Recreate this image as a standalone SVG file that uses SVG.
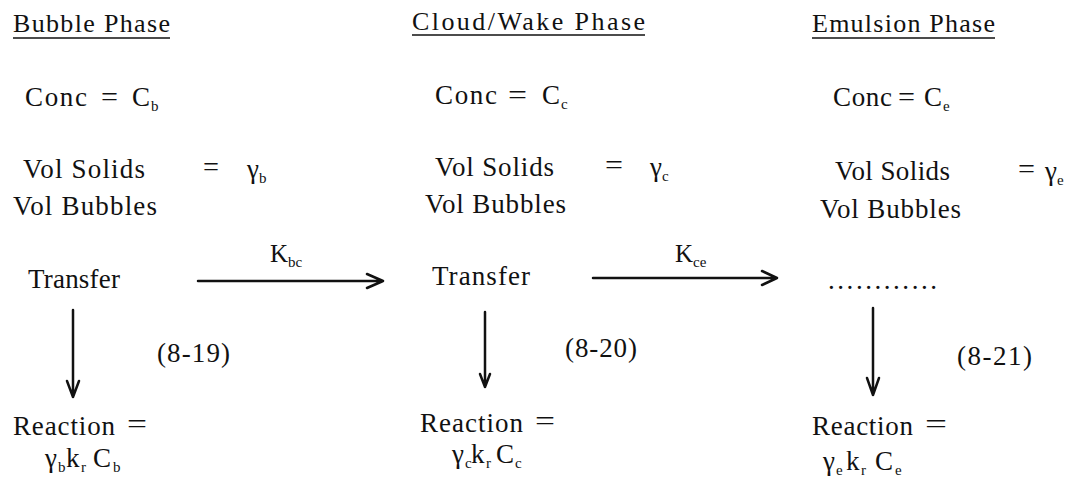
<svg xmlns="http://www.w3.org/2000/svg" width="1072" height="481" viewBox="0 0 1072 481">
<style>
text{font-family:"Liberation Serif","Times New Roman",serif;fill:#111;}
.h{font-size:26px}
.t{font-size:27px}
.s{font-size:15px}
.k{font-size:25px}
.ul{stroke:#111;stroke-width:1.5}
.ar{stroke:#111;fill:none;stroke-width:2.5;stroke-linecap:round;stroke-linejoin:round}
</style>
<rect width="1072" height="481" fill="#fff"/>

<g id="bubble-header"><text class="h" x="13" y="32" textLength="157" lengthAdjust="spacing">Bubble Phase</text><line class="ul" x1="13" y1="38" x2="170" y2="38"/></g>
<g id="cloud-header"><text class="h" x="412" y="30" textLength="233" lengthAdjust="spacing">Cloud/Wake Phase</text><line class="ul" x1="412" y1="35" x2="645" y2="35"/></g>
<g id="emulsion-header"><text class="h" x="812" y="32" textLength="183" lengthAdjust="spacing">Emulsion Phase</text><line class="ul" x1="812" y1="38" x2="995" y2="38"/></g>

<g id="bubble-conc"><text class="t" x="25" y="106" textLength="62" lengthAdjust="spacing">Conc</text><text class="t" x="101" y="106" textLength="17" lengthAdjust="spacingAndGlyphs">=</text><text class="t" x="132" y="106">C</text><text class="s" x="151" y="111">b</text></g>
<g id="cloud-conc"><text class="t" x="435" y="104" textLength="62" lengthAdjust="spacing">Conc</text><text class="t" x="508" y="104" textLength="19" lengthAdjust="spacingAndGlyphs">=</text><text class="t" x="542" y="104">C</text><text class="s" x="561" y="109">c</text></g>
<g id="emulsion-conc"><text class="t" x="833" y="106" textLength="59" lengthAdjust="spacing">Conc</text><text class="t" x="898" y="106" textLength="17" lengthAdjust="spacingAndGlyphs">=</text><text class="t" x="924" y="106">C</text><text class="s" x="943" y="111">e</text></g>

<g id="bubble-ratio"><text class="t" x="23" y="178" textLength="122" lengthAdjust="spacing">Vol Solids</text><text class="t" x="203" y="176" textLength="16" lengthAdjust="spacingAndGlyphs">=</text><text class="t" x="247" y="178">γ</text><text class="s" x="259" y="183">b</text><text class="t" x="13" y="215" textLength="144" lengthAdjust="spacing">Vol Bubbles</text></g>
<g id="cloud-ratio"><text class="t" x="435" y="176" textLength="119" lengthAdjust="spacing">Vol Solids</text><text class="t" x="605" y="174" textLength="18" lengthAdjust="spacingAndGlyphs">=</text><text class="t" x="650" y="176">γ</text><text class="s" x="662" y="181">c</text><text class="t" x="425" y="213" textLength="141" lengthAdjust="spacing">Vol Bubbles</text></g>
<g id="emulsion-ratio"><text class="t" x="835" y="180" textLength="115" lengthAdjust="spacing">Vol Solids</text><text class="t" x="1018" y="178" textLength="17" lengthAdjust="spacingAndGlyphs">=</text><text class="t" x="1045" y="180">γ</text><text class="s" x="1057" y="185">e</text><text class="t" x="820" y="218" textLength="141" lengthAdjust="spacing">Vol Bubbles</text></g>

<g id="bubble-transfer"><text class="t" x="28" y="288" textLength="92" lengthAdjust="spacing">Transfer</text></g>
<g id="cloud-transfer"><text class="t" x="432" y="285" textLength="98" lengthAdjust="spacing">Transfer</text></g>
<g id="emulsion-transfer"><text class="t" x="828" y="289" textLength="109" lengthAdjust="spacing">............</text></g>

<g id="bubble-reaction"><text class="t" x="13" y="435" textLength="102" lengthAdjust="spacing">Reaction</text><text class="t" x="127" y="433" textLength="20" lengthAdjust="spacingAndGlyphs">=</text>
<text class="t" x="45" y="467">γ</text><text class="s" x="58" y="472">b</text><text class="t" x="66" y="467">k</text><text class="s" x="81" y="472">r</text><text class="t" x="93" y="467">C</text><text class="s" x="113" y="472">b</text></g>
<g id="cloud-reaction"><text class="t" x="420" y="432" textLength="103" lengthAdjust="spacing">Reaction</text><text class="t" x="535" y="430" textLength="20" lengthAdjust="spacingAndGlyphs">=</text>
<text class="t" x="452" y="463">γ</text><text class="s" x="465" y="468">c</text><text class="t" x="471" y="463">k</text><text class="s" x="486" y="468">r</text><text class="t" x="496" y="463">C</text><text class="s" x="515" y="468">c</text></g>
<g id="emulsion-reaction"><text class="t" x="812" y="435" textLength="101" lengthAdjust="spacing">Reaction</text><text class="t" x="925" y="433" textLength="22" lengthAdjust="spacingAndGlyphs">=</text>
<text class="t" x="823" y="470">γ</text><text class="s" x="836" y="475">e</text><text class="t" x="846" y="470">k</text><text class="s" x="861" y="475">r</text><text class="t" x="875" y="470">C</text><text class="s" x="895" y="475">e</text></g>

<g id="connectors">
<path class="ar" d="M198 281 H383 M367 274 L383 281 L367 288"/>
<path class="ar" d="M593 278 H777 M762 271 L777 278 L762 285"/>
<path class="ar" stroke-width="3" d="M73 310 V397 M67 381 L73 397 L79 381"/>
<path class="ar" stroke-width="3" d="M485 312 V387 M480 374 L485 387 L490 374"/>
<path class="ar" stroke-width="3" d="M873 308 V395 M867 378 L873 395 L879 378"/>
</g>
<g id="labels">
<text class="k" x="270" y="262">K</text><text class="s" x="288" y="267">bc</text>
<text class="k" x="675" y="262">K</text><text class="s" x="693" y="267">ce</text>
<text class="t" x="157" y="362" textLength="73" lengthAdjust="spacing">(8-19)</text>
<text class="t" x="565" y="357" textLength="72" lengthAdjust="spacing">(8-20)</text>
<text class="t" x="957" y="365" textLength="75" lengthAdjust="spacing">(8-21)</text>
</g>
</svg>
